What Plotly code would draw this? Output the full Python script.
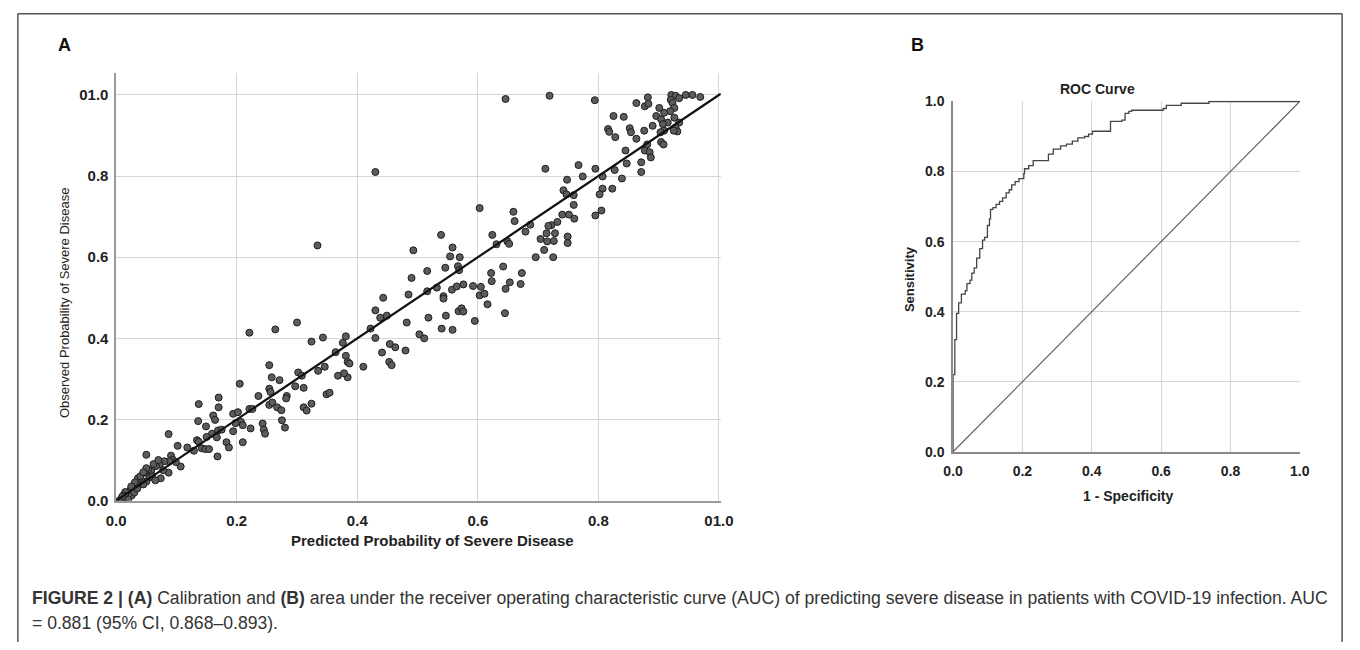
import plotly.graph_objects as go

W, H = 1360, 650

# ---------------- Panel A data (calibration) ----------------
pred = [
    0.430, 0.438, 0.449, 0.422, 0.430, 0.482, 0.518, 0.547, 0.540, 0.558, 0.568, 0.503, 0.511,
    0.454, 0.463, 0.480, 0.441, 0.453, 0.457, 0.410, 0.300, 0.264, 0.221, 0.324, 0.343, 0.381,
    0.376, 0.364, 0.381, 0.384, 0.387, 0.384, 0.368, 0.378, 0.346, 0.335, 0.302, 0.308, 0.297,
    0.311, 0.349, 0.354, 0.324, 0.311, 0.316, 0.254, 0.258, 0.271, 0.236, 0.254, 0.256, 0.283,
    0.282, 0.254, 0.259, 0.267, 0.274, 0.275, 0.280, 0.243, 0.245, 0.247, 0.223, 0.210, 0.205,
    0.194, 0.202, 0.207, 0.198, 0.210, 0.194, 0.221, 0.226, 0.183, 0.187, 0.170, 0.170, 0.137,
    0.136, 0.149, 0.161, 0.164, 0.159, 0.167, 0.150, 0.142, 0.148, 0.154, 0.169, 0.175, 0.168,
    0.134, 0.137, 0.129, 0.087, 0.102, 0.118, 0.107, 0.091, 0.094, 0.088, 0.099, 0.080, 0.072,
    0.074, 0.087, 0.066, 0.058, 0.050, 0.053, 0.047, 0.055, 0.050, 0.042, 0.036, 0.034, 0.028,
    0.023, 0.015, 0.012, 0.017, 0.031, 0.026, 0.009, 0.020,
    0.040, 0.045, 0.060, 0.065, 0.030, 0.025, 0.010, 0.005, 0.050, 0.045, 0.062, 0.070, 0.078, 0.035,
    0.646, 0.719, 0.794, 0.863, 0.882, 0.877, 0.883, 0.921, 0.928, 0.934, 0.945, 0.956, 0.969,
    0.920, 0.923, 0.926, 0.919, 0.901, 0.909, 0.896, 0.904, 0.926, 0.934, 0.915, 0.907, 0.928,
    0.931, 0.925, 0.909, 0.903, 0.890, 0.825, 0.842, 0.816, 0.818, 0.828, 0.852, 0.854, 0.863,
    0.876, 0.845, 0.847, 0.871, 0.871, 0.877, 0.885, 0.887, 0.881, 0.904, 0.908, 0.839, 0.823,
    0.827, 0.807, 0.807, 0.802, 0.795, 0.767, 0.774, 0.748, 0.742, 0.747, 0.759, 0.759, 0.740,
    0.751, 0.760, 0.795, 0.805, 0.712, 0.722, 0.732, 0.717, 0.714, 0.728, 0.704, 0.715, 0.726,
    0.710, 0.749, 0.749, 0.696, 0.725, 0.687, 0.679, 0.659, 0.661, 0.649, 0.652, 0.631, 0.624,
    0.603, 0.539, 0.558, 0.554, 0.570, 0.493, 0.516, 0.546, 0.567, 0.569, 0.490, 0.485, 0.516,
    0.532, 0.557, 0.565, 0.576, 0.592, 0.605, 0.543, 0.543, 0.603, 0.611, 0.616, 0.622, 0.623,
    0.642, 0.646, 0.653, 0.671, 0.673, 0.645, 0.573, 0.576, 0.595, 0.443,
    0.430, 0.334,
]
obs = [
    0.469, 0.451, 0.456, 0.424, 0.401, 0.439, 0.451, 0.456, 0.424, 0.421, 0.467, 0.410, 0.400,
    0.386, 0.378, 0.370, 0.365, 0.342, 0.334, 0.330, 0.439, 0.422, 0.414, 0.392, 0.402, 0.405,
    0.389, 0.366, 0.357, 0.342, 0.338, 0.304, 0.308, 0.314, 0.330, 0.320, 0.316, 0.308, 0.282,
    0.278, 0.262, 0.266, 0.239, 0.230, 0.222, 0.334, 0.304, 0.297, 0.258, 0.276, 0.268, 0.258,
    0.252, 0.236, 0.242, 0.230, 0.223, 0.198, 0.180, 0.190, 0.175, 0.165, 0.178, 0.144, 0.288,
    0.214, 0.218, 0.194, 0.191, 0.186, 0.171, 0.226, 0.226, 0.144, 0.131, 0.254, 0.230, 0.238,
    0.196, 0.183, 0.210, 0.199, 0.165, 0.156, 0.157, 0.129, 0.127, 0.127, 0.173, 0.175, 0.109,
    0.149, 0.145, 0.123, 0.164, 0.135, 0.131, 0.084, 0.111, 0.101, 0.097, 0.095, 0.097, 0.089,
    0.055, 0.069, 0.085, 0.073, 0.113, 0.077, 0.069, 0.057, 0.047, 0.049, 0.055, 0.037, 0.029,
    0.025, 0.021, 0.013, 0.009, 0.045, 0.013, 0.005, 0.003,
    0.060, 0.040, 0.060, 0.050, 0.020, 0.035, 0.010, 0.000, 0.080, 0.070, 0.090, 0.100, 0.075, 0.030,
    0.990, 0.998, 0.987, 0.980, 0.994, 0.972, 0.978, 1.000, 0.998, 0.992, 1.000, 1.000, 0.995,
    0.988, 0.980, 0.968, 0.960, 0.968, 0.956, 0.948, 0.940, 0.944, 0.932, 0.932, 0.928, 0.920,
    0.910, 0.912, 0.912, 0.908, 0.924, 0.948, 0.946, 0.916, 0.909, 0.896, 0.918, 0.908, 0.892,
    0.912, 0.863, 0.831, 0.834, 0.810, 0.863, 0.859, 0.846, 0.878, 0.884, 0.878, 0.794, 0.769,
    0.815, 0.799, 0.769, 0.755, 0.818, 0.827, 0.799, 0.791, 0.765, 0.755, 0.753, 0.729, 0.705,
    0.705, 0.695, 0.703, 0.715, 0.818, 0.679, 0.687, 0.677, 0.659, 0.659, 0.645, 0.639, 0.640,
    0.618, 0.651, 0.635, 0.600, 0.600, 0.680, 0.663, 0.712, 0.689, 0.639, 0.633, 0.632, 0.655,
    0.721, 0.655, 0.624, 0.602, 0.600, 0.617, 0.566, 0.574, 0.578, 0.568, 0.549, 0.508, 0.516,
    0.525, 0.520, 0.528, 0.533, 0.529, 0.527, 0.504, 0.498, 0.506, 0.510, 0.484, 0.561, 0.541,
    0.577, 0.522, 0.538, 0.534, 0.561, 0.462, 0.474, 0.466, 0.443, 0.500,
    0.810, 0.629,
]
fit_x = [0.0, 1.003]
fit_y = [0.0, 1.003]

cal_tickvals = [0.0, 0.2, 0.4, 0.6, 0.8, 1.0]
cal_xticktext = ["0.0", "0.2", "0.4", "0.6", "0.8", "01.0"]
cal_yticktext = ["0.0", "0.2", "0.4", "0.6", "0.8", "01.0"]

# ---------------- Panel B data (ROC) ----------------
fpr = [0.000, 0.000, 0.005, 0.010, 0.016, 0.024, 0.035, 0.040, 0.049, 0.054, 0.061, 0.068,
       0.077, 0.085, 0.091, 0.099, 0.105, 0.108, 0.115, 0.124, 0.134, 0.143, 0.153, 0.162,
       0.169, 0.179, 0.190, 0.204, 0.206, 0.218, 0.231, 0.275, 0.289, 0.310, 0.327, 0.344,
       0.360, 0.379, 0.391, 0.402, 0.454, 0.487, 0.496, 0.507, 0.515, 0.606, 0.615, 0.658,
       0.738, 1.000]
tpr = [0.000, 0.220, 0.320, 0.395, 0.425, 0.450, 0.460, 0.480, 0.490, 0.510, 0.525, 0.553,
       0.580, 0.604, 0.612, 0.646, 0.665, 0.692, 0.697, 0.706, 0.715, 0.725, 0.739, 0.748,
       0.762, 0.771, 0.780, 0.794, 0.808, 0.817, 0.831, 0.850, 0.864, 0.873, 0.878, 0.887,
       0.896, 0.900, 0.907, 0.915, 0.943, 0.947, 0.966, 0.972, 0.975, 0.980, 0.989, 0.995,
       1.000, 1.000]
ref_x = [0.0, 1.0]
ref_y = [0.0, 1.0]
roc_tickvals = [0.0, 0.2, 0.4, 0.6, 0.8, 1.0]
roc_ticktext = ["0.0", "0.2", "0.4", "0.6", "0.8", "1.0"]

FONT = "Liberation Sans, Arial, sans-serif"


def px(x):
    return x / W


def py(y):
    return 1 - y / H


fig = go.Figure()

fig.add_trace(go.Scatter(
    x=pred, y=obs, mode="markers", xaxis="x", yaxis="y",
    marker=dict(size=7, color="#5c5c5c", line=dict(color="#1e1e1e", width=1)),
    hoverinfo="skip"))
fig.add_trace(go.Scatter(
    x=fit_x, y=fit_y, mode="lines", xaxis="x", yaxis="y",
    line=dict(color="#111111", width=2.2), hoverinfo="skip"))

fig.add_trace(go.Scatter(
    x=ref_x, y=ref_y, mode="lines", xaxis="x2", yaxis="y2",
    line=dict(color="#555555", width=1.1), hoverinfo="skip"))
fig.add_trace(go.Scatter(
    x=fpr, y=tpr, mode="lines", xaxis="x2", yaxis="y2", line_shape="hv",
    line=dict(color="#444444", width=1.3), hoverinfo="skip"))

tickfont_a = dict(family=FONT, size=15, color="#222222", weight="bold")
tickfont_b = dict(family=FONT, size=14, color="#222222", weight="bold")
grid = "#d6d6d6"

fig.update_layout(
    width=W, height=H, margin=dict(l=0, r=0, t=0, b=0),
    paper_bgcolor="white", plot_bgcolor="white", showlegend=False,
    xaxis=dict(domain=[px(108), px(723)], range=[0, 1.003],
               tickvals=cal_tickvals, ticktext=cal_xticktext, tickfont=tickfont_a,
               showgrid=True, gridcolor=grid, gridwidth=1, zeroline=False,
               showline=True, linecolor="#9a9a9a", linewidth=1.5, ticks="",
               ticklabelstandoff=6, fixedrange=True),
    yaxis=dict(domain=[py(505.3), py(68)], range=[0, 1.053],
               tickvals=cal_tickvals, ticktext=cal_yticktext, tickfont=tickfont_a,
               showgrid=True, gridcolor=grid, gridwidth=1, zeroline=False,
               showline=True, linecolor="#9a9a9a", linewidth=1.5, ticks="",
               ticklabelstandoff=3, fixedrange=True),
    xaxis2=dict(domain=[px(959.3), px(1312.7)], range=[0, 1.002], anchor="y2",
                tickvals=roc_tickvals, ticktext=roc_ticktext, tickfont=tickfont_b,
                showgrid=True, gridcolor=grid, gridwidth=1, zeroline=False,
                showline=True, linecolor="#8a8a8a", linewidth=1.5, ticks="",
                ticklabelstandoff=6, fixedrange=True),
    yaxis2=dict(domain=[py(455.3), py(96)], range=[0, 1.002], anchor="x2",
                tickvals=roc_tickvals, ticktext=roc_ticktext, tickfont=tickfont_b,
                showgrid=True, gridcolor=grid, gridwidth=1, zeroline=False,
                showline=True, linecolor="#8a8a8a", linewidth=1.5, ticks="",
                ticklabelstandoff=4, fixedrange=True),
)

ann = []


def add_text(text, x, y, size, bold=False, angle=0, color="#222222", xanchor="center"):
    ann.append(dict(text=text, x=px(x), y=py(y), xref="paper", yref="paper",
                    xanchor=xanchor, yanchor="middle", showarrow=False, textangle=angle,
                    font=dict(family=FONT, size=size, color=color,
                              weight="bold" if bold else "normal")))


add_text("A", 55, 38.5, 18, bold=True, color="#111111")
add_text("B", 923.5, 38.5, 18, bold=True, color="#111111")
add_text("Observed Probability of Severe Disease", 55, 303, 13, angle=-90)
add_text("Predicted Probability of Severe Disease", 430, 546, 15, bold=True)
add_text("ROC Curve", 1106, 83.5, 14, bold=True)
add_text("Sensitivity", 915, 279, 13, bold=True, angle=-90)
add_text("1 - Specificity", 1137, 501, 14, bold=True)

cap1 = ("<b>FIGURE 2 | (A)</b> Calibration and <b>(B)</b> area under the receiver operating "
        "characteristic curve (AUC) of predicting severe disease in patients with COVID-19 "
        "infection. AUC")
cap2 = "= 0.881 (95% CI, 0.868–0.893)."
add_text(cap1, 20, 605, 17.6, color="#333333", xanchor="left")
add_text(cap2, 20, 631, 17.6, color="#333333", xanchor="left")

fig.update_layout(annotations=ann)

frame = dict(color="#555555", width=1.5)
fig.update_layout(shapes=[
    dict(type="line", xref="paper", yref="paper", x0=px(8), x1=px(8), y0=0, y1=py(7), line=frame),
    dict(type="line", xref="paper", yref="paper", x0=px(8), x1=px(1355), y0=py(7), y1=py(7), line=frame),
    dict(type="line", xref="paper", yref="paper", x0=px(1355), x1=px(1355), y0=0, y1=py(7), line=frame),
])

fig.write_html("out.html")
